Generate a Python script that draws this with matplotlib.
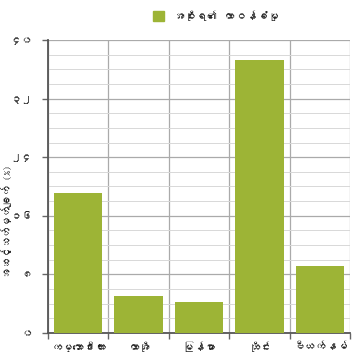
import matplotlib
matplotlib.use("Agg")
import matplotlib.pyplot as plt
from matplotlib import font_manager
from matplotlib.ticker import MultipleLocator, FixedLocator, NullFormatter
from matplotlib.patches import Patch

# data
countries = ["ကမ္ဘောဒီးယား", "လာအို", "မြန်မာ", "ထိုင်း", "ဗီယက်နမ်"]
scores = [19.1, 5.1, 4.2, 37.3, 9.1]
yticks = [0, 8, 16, 24, 32, 40]
ytick_labels = ["၀", "၈", "၁၆", "၂၄", "၃၂", "၄၀"]
series_name = "အစိုးရ၏ တာဝန်ခံမှု"
ylabel = "အဆင့်သတ်မှတ်ချက် (%)"


def find_myanmar_font():
    # look for any installed font that has Myanmar glyphs
    for f in font_manager.fontManager.ttflist:
        try:
            font = matplotlib.ft2font.FT2Font(f.fname)
            if 0x1000 in font.get_charmap():
                return f.name
        except Exception:
            pass
    return None


mm = find_myanmar_font()
families = ([mm] if mm else []) + ["DejaVu Sans"]
plt.rcParams["font.family"] = families

bar_color = "#9db436"
text_color = "#222222"

fig = plt.figure(figsize=(3.53, 3.6), dpi=100)
ax = fig.add_axes([0.136, 0.075, 0.856, 0.814])

x = list(range(len(countries)))
ax.bar(x, scores, width=0.8, color=bar_color, zorder=3)

ax.set_xlim(-0.5, len(countries) - 0.5)
ax.set_ylim(0, 40)

ax.set_xticks(x)
ax.set_xticklabels(countries, fontsize=8, color=text_color)
ax.xaxis.set_minor_locator(FixedLocator([i + 0.5 for i in range(-1, len(countries))]))
ax.xaxis.set_minor_formatter(NullFormatter())
ax.tick_params(axis="x", which="major", length=0, pad=6)
ax.tick_params(axis="x", which="minor", length=4, color="#666666", width=1)

ax.set_yticks(yticks)
ax.set_yticklabels(ytick_labels, fontsize=8, color=text_color)
ax.yaxis.set_minor_locator(MultipleLocator(2))
ax.tick_params(axis="y", which="major", length=4, color="#666666", width=1, pad=7)
ax.tick_params(axis="y", which="minor", length=0)

ax.grid(axis="y", which="major", color="#aaaaaa", linewidth=0.9, zorder=0)
ax.grid(axis="y", which="minor", color="#d8d8d8", linewidth=0.7, zorder=0)
ax.grid(axis="x", which="minor", color="#aaaaaa", linewidth=0.9, zorder=0)
ax.set_axisbelow(True)

for side in ["top", "right"]:
    ax.spines[side].set_visible(False)
ax.spines["left"].set_color("#555555")
ax.spines["left"].set_linewidth(1.3)
ax.spines["bottom"].set_color("#555555")
ax.spines["bottom"].set_linewidth(1.3)

ax.set_ylabel(ylabel, fontsize=7.5, color=text_color)
ax.yaxis.set_label_coords(-0.12, 0.38)

fig.legend(handles=[Patch(color=bar_color, label=series_name)],
           loc="upper center", bbox_to_anchor=(0.61, 1.0), frameon=False,
           fontsize=8, handlelength=1.0, handleheight=1.0, labelcolor=text_color)

fig.savefig("out.png", dpi=100)
